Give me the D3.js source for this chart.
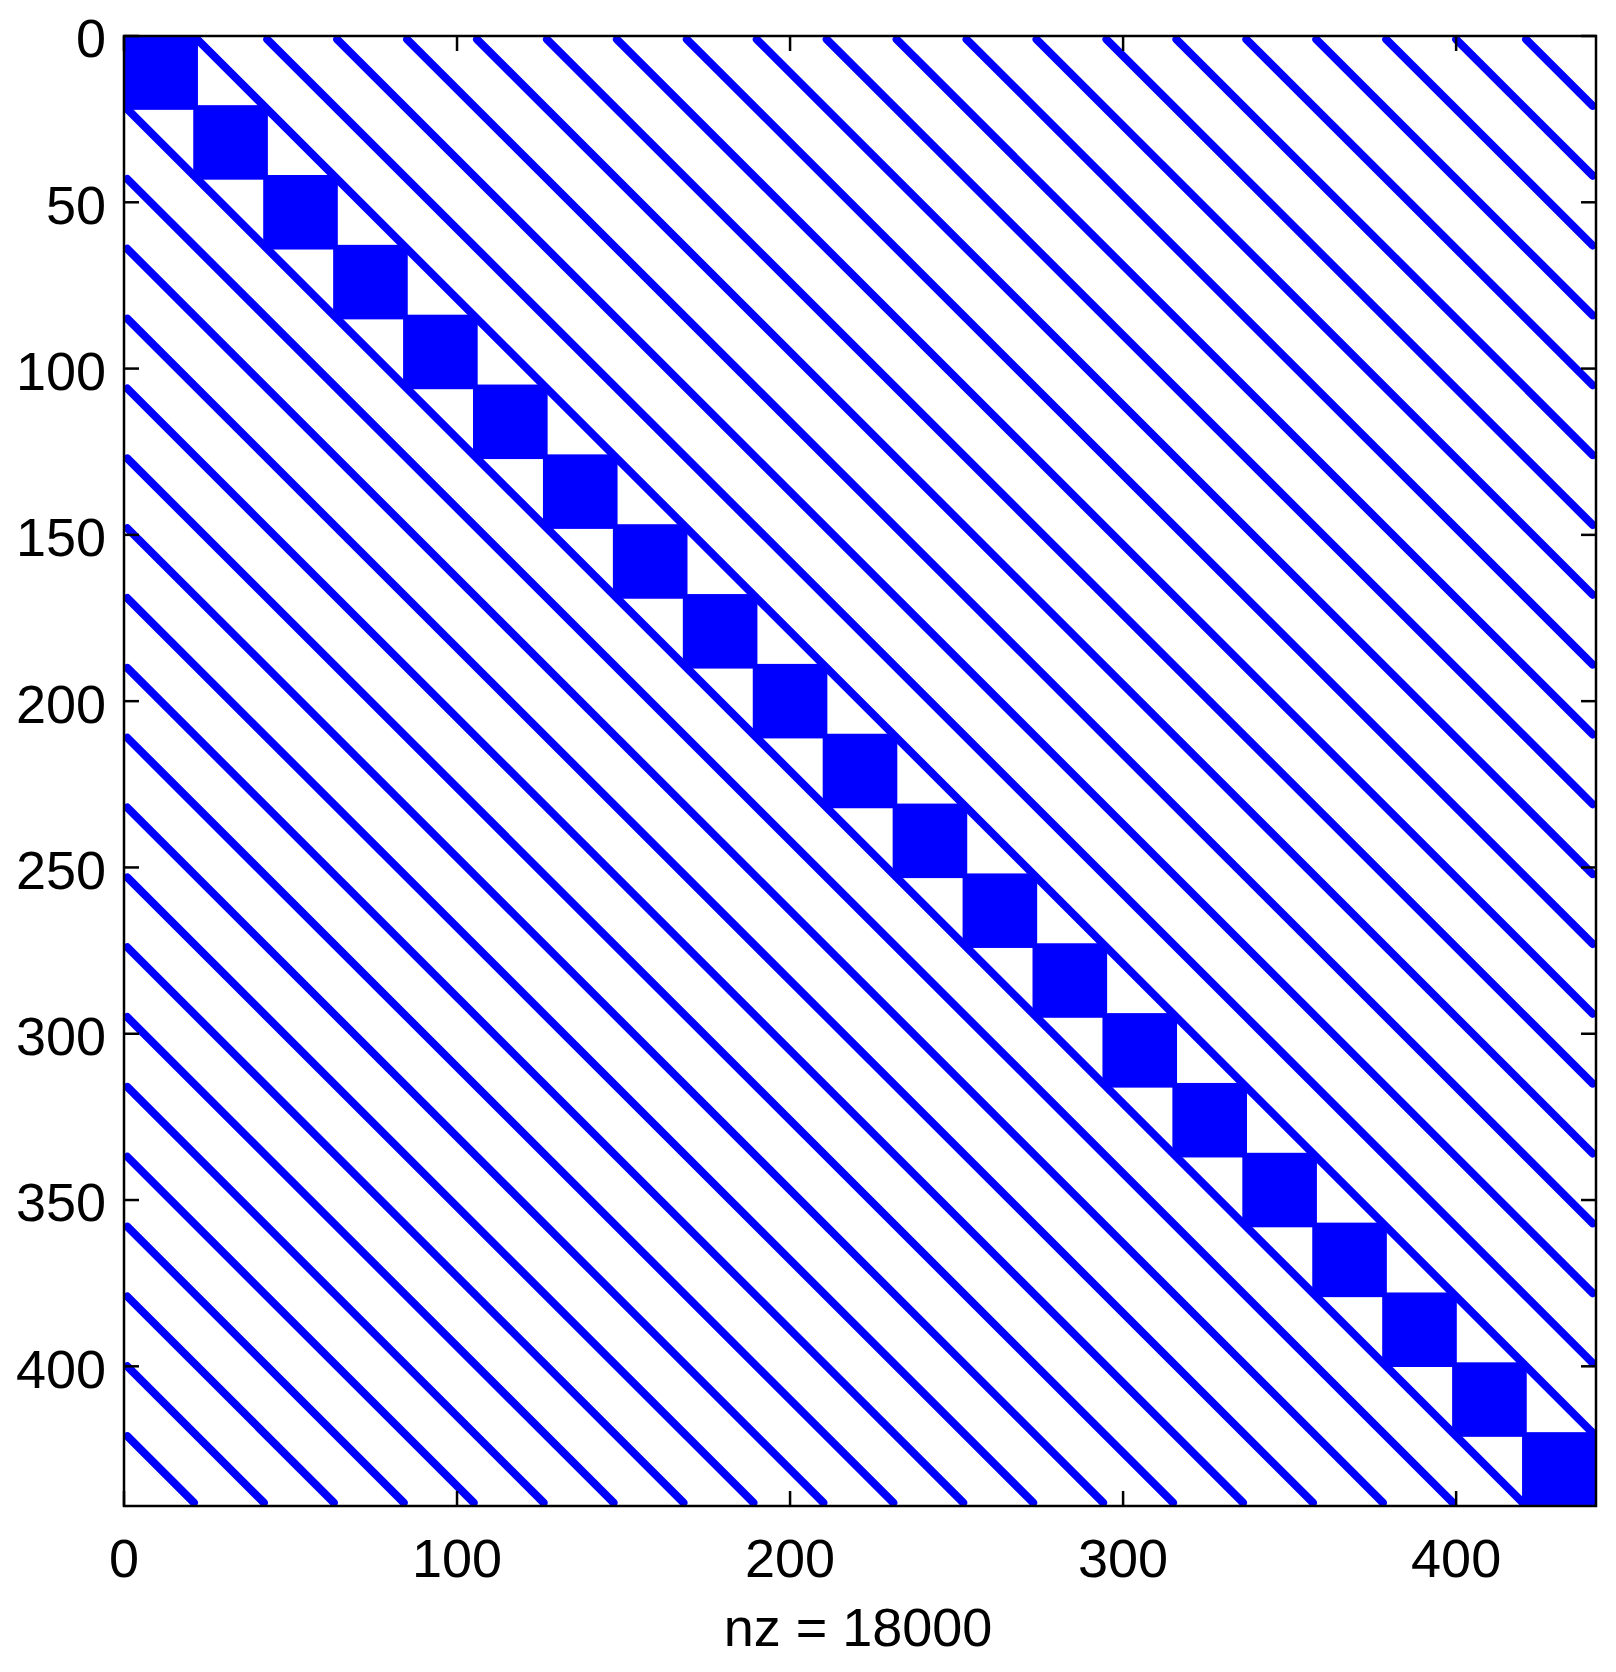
<!DOCTYPE html>
<html><head><meta charset="utf-8">
<script src="https://cdn.jsdelivr.net/npm/d3@7"></script>
<style>body{margin:0;background:#fff}</style></head>
<body><svg id="c" width="1616" height="1672"></svg>
<script>
// matrix structure
const n = 441;
const blockSize = 21;
const blockStarts = d3.range(0, n, blockSize);           // diagonal dense blocks
const diagOffsets = d3.range(1, 21).map(k => k * blockSize); // +/- off-diagonals
const xTicks = [0, 100, 200, 300, 400];
const yTicks = [0, 50, 100, 150, 200, 250, 300, 350, 400];
const xLabel = 'nz = 18000';

const L = 124, R = 1596, T = 36, B = 1506;
const svg = d3.select('#c');
const x = d3.scaleLinear().domain([0, n + 1]).range([L, R]);
const y = d3.scaleLinear().domain([0, n + 1]).range([T, B]);
const blue = '#0000ff', lw = 8;

const g = svg.append('g');
g.selectAll('rect.blk').data(blockStarts).enter().append('rect')
  .attr('x', d => x(d + 1) - lw / 2)
  .attr('y', d => y(d + 1) - lw / 2)
  .attr('width', x(blockSize - 1) - x(0) + lw)
  .attr('height', y(blockSize - 1) - y(0) + lw)
  .attr('fill', blue);

const diags = diagOffsets.flatMap(o => [{r: 1, c: 1 + o, len: n - o}, {r: 1 + o, c: 1, len: n - o}]);
g.selectAll('line.dg').data(diags).enter().append('line')
  .attr('x1', d => x(d.c)).attr('y1', d => y(d.r))
  .attr('x2', d => x(d.c + d.len - 1)).attr('y2', d => y(d.r + d.len - 1))
  .attr('stroke', blue).attr('stroke-width', lw).attr('stroke-linecap', 'round');

// frame
svg.append('rect').attr('x', L).attr('y', T).attr('width', R - L).attr('height', B - T)
  .attr('fill', 'none').attr('stroke', '#000').attr('stroke-width', 2.5);

const font = '"Liberation Sans", Arial, sans-serif';
const fs = 54, tl = 15;
xTicks.forEach(t => {
  svg.append('line').attr('x1', x(t)).attr('x2', x(t)).attr('y1', B).attr('y2', B - tl).attr('stroke', '#000').attr('stroke-width', 2.5);
  svg.append('line').attr('x1', x(t)).attr('x2', x(t)).attr('y1', T).attr('y2', T + tl).attr('stroke', '#000').attr('stroke-width', 2.5);
  svg.append('text').attr('x', x(t)).attr('y', 1577).attr('text-anchor', 'middle')
    .attr('font-family', font).attr('font-size', fs).text(t);
});
yTicks.forEach(t => {
  svg.append('line').attr('x1', L).attr('x2', L + tl).attr('y1', y(t)).attr('y2', y(t)).attr('stroke', '#000').attr('stroke-width', 2.5);
  svg.append('line').attr('x1', R).attr('x2', R - tl).attr('y1', y(t)).attr('y2', y(t)).attr('stroke', '#000').attr('stroke-width', 2.5);
  svg.append('text').attr('x', 106).attr('y', y(t) + 2).attr('dy', '0.36em').attr('text-anchor', 'end')
    .attr('font-family', font).attr('font-size', fs).text(t);
});
svg.append('text').attr('x', 858).attr('y', 1646).attr('text-anchor', 'middle')
  .attr('font-family', font).attr('font-size', fs).text(xLabel);
</script></body></html>
